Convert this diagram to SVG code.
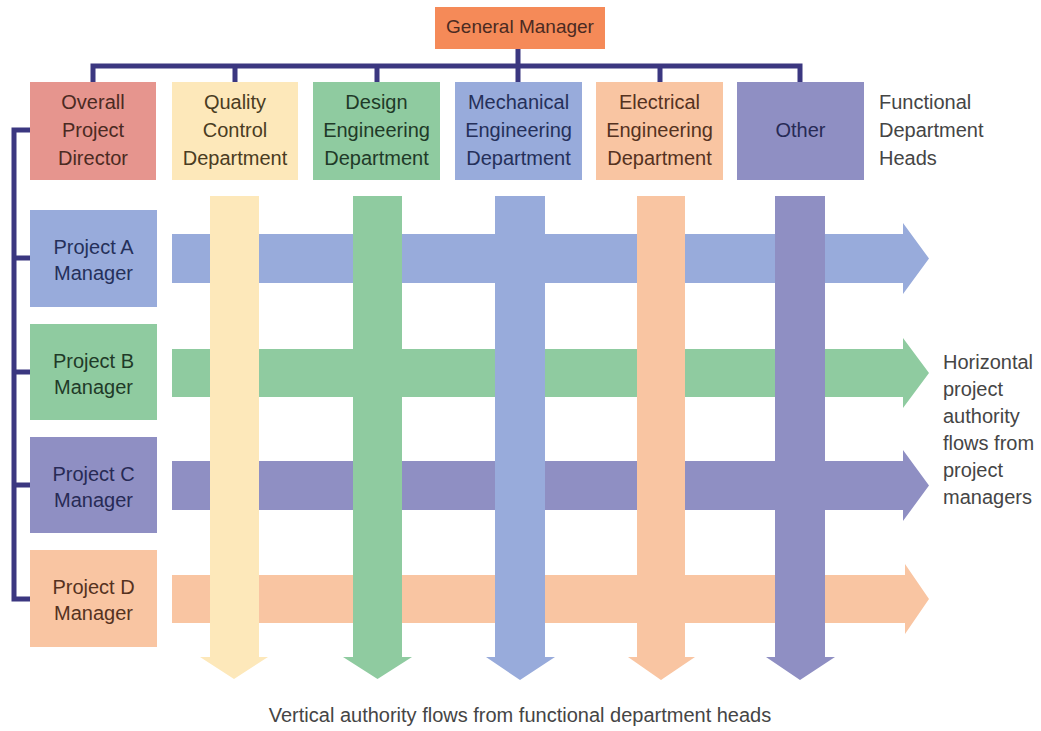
<svg xmlns="http://www.w3.org/2000/svg" width="1041" height="731" viewBox="0 0 1041 731">
  <style>
    text { font-family: "Liberation Sans", Arial, sans-serif; font-size: 20px; }
    .c { text-anchor: middle; }
    .note { fill: #454545; }
    .line { fill: none; stroke: #3b3780; stroke-width: 5; stroke-linecap: square; }
    .orange { fill: #F58A58; }
    .pink { fill: #E6958E; }
    .yellow { fill: #FDE8BA; }
    .green { fill: #8FCBA0; }
    .blue { fill: #98ABDB; }
    .peach { fill: #F9C5A2; }
    .violet { fill: #8F8FC3; }
    .tBrown { fill: #4b2a22; }
    .tOlive { fill: #4a3c22; }
    .tGreen { fill: #1f3a28; }
    .tNavy { fill: #25305a; }
    .tPeach { fill: #55321f; }
    .tViolet { fill: #272a55; }
  </style>

  <rect width="1041" height="731" fill="#ffffff"/>

  <!-- reporting lines -->
  <g id="connectors">
    <path class="line" d="M518 49 V66 M93 66 H800 M93 66 V82 M235 66 V82 M377 66 V82 M518 66 V82 M660 66 V82 M800 66 V82"/>
    <path class="line" d="M30 130 H14 V599 H30 M14 258 H30 M14 372 H30 M14 485 H30"/>
  </g>

  <!-- horizontal project authority arrows -->
  <g id="project-flows">
    <path class="blue" d="M172 234 H903 V223 L929 258.5 L903 294 V283 H172 Z"/>
    <path class="green" d="M172 349 H903 V338 L929 373 L903 408 V397 H172 Z"/>
    <path class="violet" d="M172 461 H903 V450 L929 485.5 L903 521 V510 H172 Z"/>
    <path class="peach" d="M172 575 H905 V564 L929 599 L905 634 V623 H172 Z"/>
  </g>

  <!-- vertical functional authority arrows -->
  <g id="functional-flows">
    <path class="yellow" d="M210 196 H259 V657 H268 L234 679 L200 657 H210 Z"/>
    <path class="green" d="M353 196 H402 V657 H412 L377.5 679 L343 657 H353 Z"/>
    <path class="blue" d="M495 196 H545 V657 H555 L520 680 L486 657 H495 Z"/>
    <path class="peach" d="M637 196 H685 V657 H695 L661 680 L628 657 H637 Z"/>
    <path class="violet" d="M775 196 H825 V657 H835 L800 680 L766 657 H775 Z"/>
  </g>

  <g id="general-manager">
    <rect class="orange" x="435" y="7" width="170" height="42"/>
    <text class="c tBrown" x="520" y="33" style="font-size:19px">General Manager</text>
  </g>

  <g id="overall-project-director">
    <rect class="pink" x="30" y="82" width="126" height="98"/>
    <text class="c tBrown" x="93" y="109">Overall</text>
    <text class="c tBrown" x="93" y="137">Project</text>
    <text class="c tBrown" x="93" y="165">Director</text>
  </g>

  <g id="quality-control">
    <rect class="yellow" x="172" y="82" width="126" height="98"/>
    <text class="c tOlive" x="235" y="109">Quality</text>
    <text class="c tOlive" x="235" y="137">Control</text>
    <text class="c tOlive" x="235" y="165">Department</text>
  </g>

  <g id="design-engineering">
    <rect class="green" x="313" y="82" width="127" height="98"/>
    <text class="c tGreen" x="376.5" y="109">Design</text>
    <text class="c tGreen" x="376.5" y="137">Engineering</text>
    <text class="c tGreen" x="376.5" y="165">Department</text>
  </g>

  <g id="mechanical-engineering">
    <rect class="blue" x="455" y="82" width="127" height="98"/>
    <text class="c tNavy" x="518.5" y="109">Mechanical</text>
    <text class="c tNavy" x="518.5" y="137">Engineering</text>
    <text class="c tNavy" x="518.5" y="165">Department</text>
  </g>

  <g id="electrical-engineering">
    <rect class="peach" x="596" y="82" width="127" height="98"/>
    <text class="c tPeach" x="659.5" y="109">Electrical</text>
    <text class="c tPeach" x="659.5" y="137">Engineering</text>
    <text class="c tPeach" x="659.5" y="165">Department</text>
  </g>

  <g id="other">
    <rect class="violet" x="737" y="82" width="127" height="98"/>
    <text class="c tViolet" x="800.5" y="137">Other</text>
  </g>

  <g id="project-a-manager">
    <rect class="blue" x="30" y="210" width="127" height="97"/>
    <text class="c tNavy" x="93.5" y="254">Project A</text>
    <text class="c tNavy" x="93.5" y="280">Manager</text>
  </g>

  <g id="project-b-manager">
    <rect class="green" x="30" y="324" width="127" height="96"/>
    <text class="c tGreen" x="93.5" y="368">Project B</text>
    <text class="c tGreen" x="93.5" y="394">Manager</text>
  </g>

  <g id="project-c-manager">
    <rect class="violet" x="30" y="437" width="127" height="96"/>
    <text class="c tViolet" x="93.5" y="481">Project C</text>
    <text class="c tViolet" x="93.5" y="507">Manager</text>
  </g>

  <g id="project-d-manager">
    <rect class="peach" x="30" y="550" width="127" height="97"/>
    <text class="c tPeach" x="93.5" y="594">Project D</text>
    <text class="c tPeach" x="93.5" y="620">Manager</text>
  </g>

  <g id="labels">
    <text class="note" x="879" y="109">Functional</text>
    <text class="note" x="879" y="137">Department</text>
    <text class="note" x="879" y="165">Heads</text>

    <text class="note" x="943" y="369">Horizontal</text>
    <text class="note" x="943" y="396">project</text>
    <text class="note" x="943" y="423">authority</text>
    <text class="note" x="943" y="450">flows from</text>
    <text class="note" x="943" y="477">project</text>
    <text class="note" x="943" y="504">managers</text>

    <text class="note c" x="520" y="722">Vertical authority flows from functional department heads</text>
  </g>
</svg>
